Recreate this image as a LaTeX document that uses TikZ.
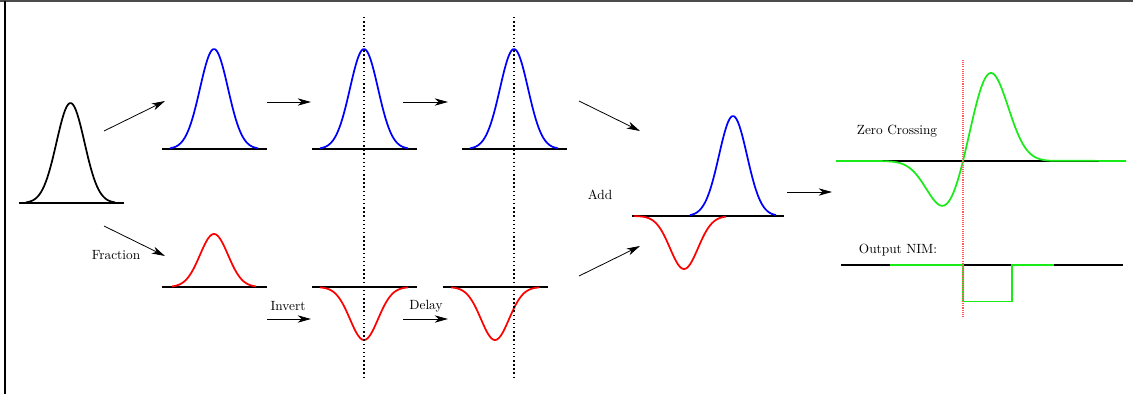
\documentclass[tikz,border=0pt]{standalone}
\usepackage{tikz}
\usetikzlibrary{arrows.meta, positioning}
\definecolor{zcgreen}{RGB}{25,235,25}
\tikzset{
  declare function={gauss(\t,\c,\s)=exp(-0.5*((\t-\c)/\s)^2);},
  pulse/.style={line width=1.3pt},
  baseln/.style={line width=1.2pt, black},
  flow/.style={-{Stealth[length=10pt,width=5.5pt,inset=3pt]}, line width=0.6pt},
  marker/.style={dotted, line width=1.1pt}
}
\begin{document}
\begin{tikzpicture}[x=0.75pt, y=-0.75pt]
  \useasboundingbox (0,0) rectangle (1133,394);
  \draw[black!70, line width=1pt] (0,1) -- (1133,1);
  \draw[line width=1pt] (5,1) -- (5,394);
  % input pulse (black)
  \draw[baseln] (19,203) -- (124,203);
  \draw[pulse] plot[domain=26:115, samples=60] (\x,{203-100*gauss(\x,70.5,14)});
  % prompt branch (blue)
  \foreach \c in {214,364,514} {
    \draw[baseln] (\c-52,149) -- (\c+53,149);
    \draw[pulse, blue] plot[domain=\c-44:\c+44, samples=60] (\x,{149-100*gauss(\x,\c,14)});
  }
  % fraction, inverted, delayed (red)
  \draw[baseln] (162,287) -- (267,287);
  \draw[pulse, red] plot[domain=172:256, samples=60] (\x,{287-53*gauss(\x,214,14)});
  \draw[baseln] (312,287) -- (417,287);
  \draw[pulse, red] plot[domain=320:408, samples=60] (\x,{287+53*gauss(\x,364,14)});
  \draw[baseln] (443,287) -- (548,287);
  \draw[pulse, red] plot[domain=451:539, samples=60] (\x,{287+53*gauss(\x,495,14)});
  \foreach \c in {364,514}
    \draw[marker] (\c,17) -- (\c,377);
  % sum
  \draw[baseln] (632,216) -- (784,216);
  \draw[pulse, red] plot[domain=634:726, samples=60] (\x,{216+53*gauss(\x,684,14)});
  \draw[pulse, blue] plot[domain=690:776, samples=60] (\x,{216-100*gauss(\x,733,14)});
  % zero crossing (green)
  \draw[baseln] (836,161) -- (1126,161);
  \draw[pulse, zcgreen] (836,161) -- plot[domain=882:1050, samples=120]
    (\x,{161-90*gauss(\x,990,18)+48*gauss(\x,945,18)}) -- (1126,161);
  \draw[baseln, line width=1pt] (841,265) -- (1123,265);
  \draw[zcgreen, line width=1.1pt] (890,265) -- (963,265) -- (963,301.5)
    -- (1012,301.5) -- (1012,265) -- (1054,265);
  \draw[red!65, dash pattern=on 0.8pt off 0.8pt, line width=0.8pt] (963,60) -- (963,317);
  % labels
  \node (fraction) at (116,255) {Fraction};
  \node (invert) at (288,306) {Invert};
  \node (delay) at (426,306) {Delay};
  \node (add) at (600,195) {Add};
  \node (zero) at (897,131) {Zero Crossing};
  \node (nim) at (898,250) {Output NIM:};
  % arrows
  \coordinate (split-a) at (104,131); \coordinate (prompt-a) at (165,101);
  \coordinate (split-b) at (104,226); \coordinate (frac-b) at (165,256);
  \coordinate (top1-s) at (267,102);  \coordinate (top1-e) at (311,102);
  \coordinate (top2-s) at (403,102);  \coordinate (top2-e) at (448,102);
  \coordinate (inv-s) at (267,319);   \coordinate (inv-e) at (311,319);
  \coordinate (del-s) at (403,319);   \coordinate (del-e) at (448,319);
  \coordinate (sum-a) at (579,101);   \coordinate (sum-ae) at (640,131);
  \coordinate (sum-b) at (579,276);   \coordinate (sum-be) at (640,246);
  \coordinate (zc-s) at (787,192);    \coordinate (zc-e) at (832,192);
  \draw[flow] (split-a) -- (prompt-a);
  \draw[flow] (split-b) -- (frac-b);
  \draw[flow] (top1-s) -- (top1-e);
  \draw[flow] (top2-s) -- (top2-e);
  \draw[flow] (inv-s) -- (inv-e);
  \draw[flow] (del-s) -- (del-e);
  \draw[flow] (sum-a) -- (sum-ae);
  \draw[flow] (sum-b) -- (sum-be);
  \draw[flow] (zc-s) -- (zc-e);
\end{tikzpicture}
\end{document}
